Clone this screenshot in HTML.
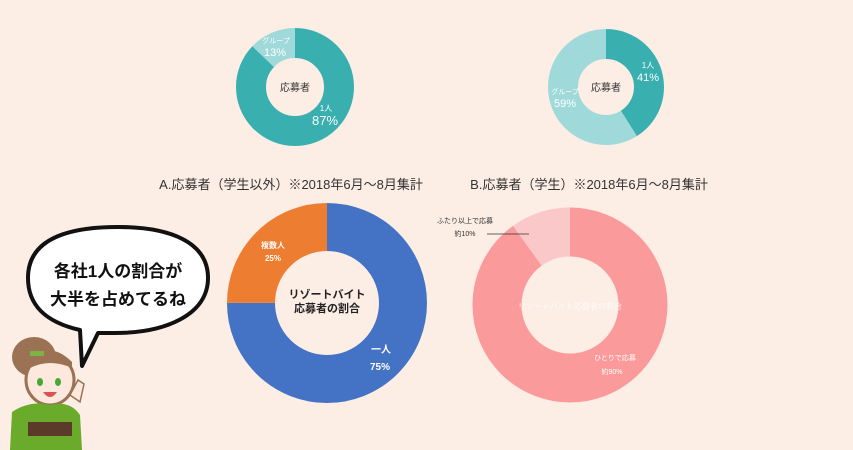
<!DOCTYPE html>
<html><head><meta charset="utf-8"><style>
body{margin:0;background:#fcede5;}
svg{display:block}
text{font-family:"Liberation Sans","Noto Sans CJK JP",sans-serif}
</style></head><body>
<svg width="853" height="450" viewBox="0 0 853 450">
<rect width="853" height="450" fill="#fcede5"/>
<g transform="rotate(-90 295 87)">
<circle cx="295" cy="87" r="44" fill="none" stroke="#39afb0" stroke-width="30" stroke-dasharray="240.5 276.5"/>
<circle cx="295" cy="87" r="44" fill="none" stroke="#9fd9da" stroke-width="30" stroke-dasharray="0 240.5 36 0"/>
</g>
<text x="295" y="91" font-size="10" text-anchor="middle" fill="#333">応募者</text>
<text x="276" y="43" font-size="7" text-anchor="middle" fill="#fff">グループ</text>
<text x="275" y="56" font-size="11" text-anchor="middle" fill="#fff">13%</text>
<text x="326" y="111" font-size="8" text-anchor="middle" fill="#fff">1人</text>
<text x="325" y="125" font-size="13" text-anchor="middle" fill="#fff">87%</text>
<g transform="rotate(-90 606 87)">
<circle cx="606" cy="87" r="43" fill="none" stroke="#39afb0" stroke-width="30" stroke-dasharray="110.8 159.4"/>
<circle cx="606" cy="87" r="43" fill="none" stroke="#9fd9da" stroke-width="30" stroke-dasharray="0 110.8 159.4 0"/>
</g>
<text x="606" y="91" font-size="10" text-anchor="middle" fill="#333">応募者</text>
<text x="648" y="68" font-size="8" text-anchor="middle" fill="#fff">1人</text>
<text x="648" y="81" font-size="11" text-anchor="middle" fill="#fff">41%</text>
<text x="565" y="94" font-size="7" text-anchor="middle" fill="#fff">グループ</text>
<text x="565" y="107" font-size="11" text-anchor="middle" fill="#fff">59%</text>
<text x="291" y="189" font-size="13" text-anchor="middle" fill="#333">A.応募者（学生以外）※2018年6月～8月集計</text>
<text x="589" y="189" font-size="13" text-anchor="middle" fill="#333">B.応募者（学生）※2018年6月～8月集計</text>
<g transform="rotate(-90 327 303)">
<circle cx="327" cy="303" r="76" fill="none" stroke="#4472c4" stroke-width="48" stroke-dasharray="358.1 119.4"/>
<circle cx="327" cy="303" r="76" fill="none" stroke="#ed7d31" stroke-width="48" stroke-dasharray="0 358.1 119.4 0"/>
</g>
<text x="327" y="298" font-size="11" font-weight="bold" text-anchor="middle" fill="#222">リゾートバイト</text>
<text x="327" y="312" font-size="11" font-weight="bold" text-anchor="middle" fill="#222">応募者の割合</text>
<text x="273" y="248" font-size="8" font-weight="bold" text-anchor="middle" fill="#fff">複数人</text>
<text x="273" y="261" font-size="8" font-weight="bold" text-anchor="middle" fill="#fff">25%</text>
<text x="381" y="353" font-size="10" font-weight="bold" text-anchor="middle" fill="#fff">一人</text>
<text x="380" y="370" font-size="10" font-weight="bold" text-anchor="middle" fill="#fff">75%</text>
<g transform="rotate(-90 570 305)">
<circle cx="570" cy="305" r="73" fill="none" stroke="#fb9a9b" stroke-width="49" stroke-dasharray="413 46"/>
<circle cx="570" cy="305" r="73" fill="none" stroke="#fbc8c9" stroke-width="49" stroke-dasharray="0 413 46 0"/>
</g>
<text x="570" y="309" font-size="8" text-anchor="middle" fill="#fff" opacity="0.8">リゾートバイト応募者の割合</text>
<text x="615" y="360" font-size="7" text-anchor="middle" fill="#fff">ひとりで応募</text>
<text x="612" y="374" font-size="7" text-anchor="middle" fill="#fff">約90%</text>
<text x="465" y="223" font-size="7" text-anchor="middle" fill="#333">ふたり以上で応募</text>
<text x="465" y="236" font-size="7" text-anchor="middle" fill="#333">約10%</text>
<line x1="487" y1="234" x2="529" y2="234" stroke="#333" stroke-width="0.8"/>
<path d="M28 278 C28 238 70 227 118 227 C170 227 208 242 208 278 C208 315 165 333 115 333 L98 333 L82 366 L80 330 C45 322 28 305 28 278 Z" fill="#fff" stroke="#111" stroke-width="4" stroke-linejoin="round"/>
<text x="118" y="277" font-size="17" font-weight="bold" text-anchor="middle" fill="#111">各社1人の割合が</text>
<text x="118" y="305" font-size="17" font-weight="bold" text-anchor="middle" fill="#111">大半を占めてるね</text>
<ellipse cx="34" cy="357" rx="22" ry="20" fill="#9b7253"/>
<ellipse cx="50" cy="380" rx="24" ry="25" fill="#fce8dc" stroke="#9b7253" stroke-width="3"/>
<path d="M30 360 Q50 340 72 362 L72 368 Q50 358 30 368Z" fill="#9b7253"/>
<rect x="30" y="351" width="14" height="5" fill="#7cb342"/>
<ellipse cx="40" cy="382" rx="3" ry="4" fill="#4a3"/>
<ellipse cx="58" cy="382" rx="3" ry="4" fill="#4a3"/>
<path d="M43 392 Q50 402 57 392Z" fill="#d9534f"/>
<path d="M10 450 L12 412 Q30 400 50 405 Q70 400 80 415 L82 450Z" fill="#6bab2c"/>
<rect x="28" y="422" width="44" height="14" fill="#5b3a2a"/>
<path d="M70 395 L78 380 L84 384 L80 402Z" fill="#fce8dc" stroke="#9b7253" stroke-width="1.5"/>
</svg>
</body></html>
